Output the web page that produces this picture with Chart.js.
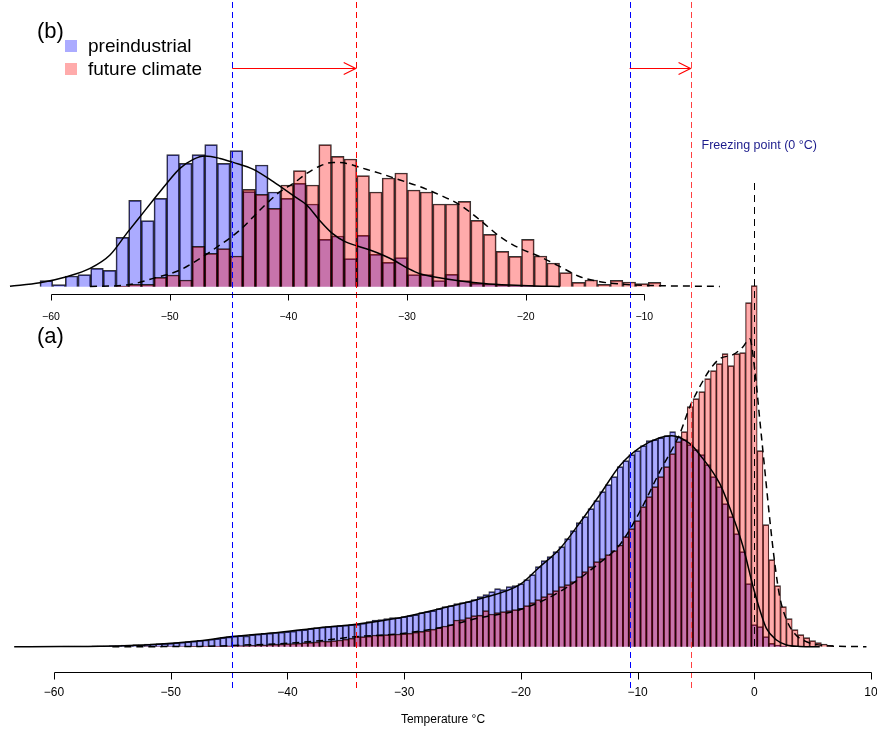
<!DOCTYPE html>
<html lang="en">
<head>
<meta charset="UTF-8">
<title>Temperature distributions</title>
<script src="https://cdn.jsdelivr.net/npm/chart.js"></script>
<style>
  html, body { margin: 0; padding: 0; background: #fff; }
  #wrap { position: relative; width: 877px; height: 731px; }
</style>
</head>
<body>
<div id="wrap"><canvas id="tempChart" width="877" height="731"></canvas></div>
<script>
// ---- panel (b): 49 bins, about 1.07 degC wide
const binStartB = -60.93;
const binWidthB = 1.068;
const preB = [6, 2, 10.7, 12, 18.3, 16.3, 49.3, 86.3, 66, 88.3, 132, 123.3, 132, 142, 123.3, 136, 95, 121.7, 94.7, 88.3,
  103.3, 82.7, 47.3, 50.7, 28, 51.3, 32.3, 24.3, 29, 12, 12, 6, 12.3, 6, 3.3, 2.7, 1.7, 1, 1.3, 0.7,
  0, 0, 0, 0, 0, 0, 0, 0, 0];
const futB = [0, 0, 0, 0, 0, 0, 0.5, 2.3, 2.3, 9.3, 11.7, 6.7, 40.3, 33.3, 38, 30.7, 97.3, 92.3, 78.3, 101.7,
  116, 101.7, 142, 130.3, 127.7, 111, 94.7, 108.7, 113.7, 96.7, 94.7, 82.7, 82.7, 85.3, 66.3, 52.3, 35.3, 30.3, 47.3, 30.7,
  23.7, 14, 4.3, 6.7, 2.3, 6.3, 4.7, 3, 4.3];

// density curves of panel (b)
const preCurveBx = [-63.46, -60.93, -58.68, -56.71, -55.03, -53.62, -52.50, -51.38, -50.25, -49.13, -48.01, -47.02, -45.76,
  -44.64, -42.95, -41.27, -39.58, -38.45, -37.39, -36.29, -35.22, -34.19, -33.12, -32.05, -30.99, -29.91, -28.84, -27.78,
  -25.64, -23.51, -21.38, -19.24, -17.11];
const preCurveBy = [0.5, 4, 10, 18.3, 31.7, 53.3, 70, 86.7, 103.3, 118.3, 127.3, 130.7, 128.3, 124.3, 117.3, 105, 91, 81.7,
  66.7, 53.3, 45, 40.7, 36.7, 31.7, 25.7, 18.3, 12.7, 10, 6, 3.3, 1.7, 0.7, 0.3];
const futCurveBx = [-56.71, -53.60, -51.38, -49.13, -47.44, -45.76, -44.07, -42.39, -40.70, -39.58, -38.45, -37.33, -36.21,
  -35.08, -33.96, -32.27, -30.59, -28.90, -27.22, -25.53, -23.85, -22.16, -20.48, -18.79, -17.10, -15.42, -13.73, -12.05,
  -9.80, -7.00, -3.63];
const futCurveBy = [0.3, 1.7, 8.3, 16.7, 28.3, 41.7, 56.7, 76.7, 95, 103.3, 113.3, 120.7, 124.3, 123.3, 119.3, 113.3, 106.7,
  100, 91.7, 81.7, 66.7, 50, 38.3, 30, 20, 10, 5, 2.7, 1.3, 0.7, 0.3];

// ---- panel (a): 140 bins of 0.5 degC, first bin centred on -63
const binStartA = -63.25;
const binWidthA = 0.5;
const preA = [0, 0, 0, 0.3, 0.3, 0.3, 0.4, 0.4, 0.5, 0.5,
  0.6, 0.6, 0.7, 0.8, 0.8, 0.9, 1,
  1.2, 1.5, 1.6, 2, 2.2, 2.5, 2.8, 3, 3.3, 3.6,
  4, 4.5, 5, 5.6, 6.3, 6.7, 7.5, 8, 9, 9.8,
  10.5, 11, 10.8, 12, 12.5, 13.3, 13.5, 14.2,
  14.5, 15, 15.5, 16.7, 17, 18, 19, 19.5, 20, 20.5,
  21, 21.5, 22, 22.3, 23.5, 25, 26.5, 27, 28, 29,
  29, 30, 31, 32, 34, 35, 36, 38, 40, 41, 43,
  44, 45, 47, 50, 52, 55, 58, 57, 60, 61, 63,
  67, 72, 80, 86, 90, 95, 100, 108, 116, 124,
  130, 138, 146, 155, 162, 170, 180, 186, 192, 196,
  201, 206, 207, 209, 211, 215, 210, 207, 202, 197,
  192, 182, 170, 160, 143, 130, 113, 95, 63, 22,
  20, 10, 3.3, 1.7, 0.5, 0, 0, 0, 0, 0, 0, 0, 0];
const futA = [0, 0, 0, 0, 0, 0, 0, 0, 0, 0, 0, 0, 0, 0, 0, 0, 0, 0, 0, 0, 0, 0,
  0.1, 0.1, 0.1, 0.2, 0.2,
  0.2, 0.2, 0.3, 0.3, 0.4, 0.5, 0.5, 0.6, 0.7, 0.8, 0.9, 1,
  1.2, 1.4, 1.6, 1.9, 2.2, 2.5,
  2.7, 3, 3.2, 3.6, 4, 4.3, 4.8, 5.7, 5.5, 6,
  6.7, 7.5, 8.5, 10, 10, 10.5, 11.7, 11.5, 12, 12.5,
  12.7, 13, 13.5, 14.5, 15.3, 16, 17.5, 19, 20.7, 22,
  26.7, 27, 29, 31, 31.5, 36, 32.7, 34, 35, 36,
  37, 38.3, 41, 44, 47, 50, 53, 56, 60, 62,
  65, 70, 75, 80, 85, 88, 92, 96, 101.7, 110,
  118, 126, 140, 150, 160, 170, 180, 193, 205, 215,
  240, 248, 255, 268, 276, 283, 293, 281, 293, 294,
  344, 361, 196, 122, 87, 61, 40, 28, 17, 12, 9, 6, 4, 2.7, 1.3];

const preCurveAx = [-63.41, -59.47, -56.06, -51.78, -47.49, -44.93, -40.64, -37.22, -34.13, -30.36, -26.94, -23.51, -20.09,
  -18.37, -16.66, -14.95, -13.23, -11.52, -9.81, -8.10, -7.07, -5.52, -4.67, -2.96, -1.82, -0.96, -0.10, 0.47, 1.04,
  1.90, 2.76, 3.90, 5.61];
const preCurveAy = [0, 0.2, 0.5, 2, 6, 10, 14.5, 19, 22.5, 29, 38, 48, 62, 80, 98, 124, 152, 181, 199, 209, 211, 203, 192,
  163, 130, 100, 60, 37, 18.3, 6.7, 1.7, 0.3, 0];
const futCurveAx = [-55, -47.49, -44.07, -40.64, -37.22, -34.13, -30.36, -26.94, -23.51, -20.09, -16.66, -13.23, -11.52, -9.81,
  -8.10, -6.38, -5.52, -4.67, -3.81, -2.96, -1.82, -0.96, -0.39, 0.04, 0.47, 0.90, 1.33, 1.76, 2.18, 2.76, 3.47, 4.47,
  6.18, 9.61];
const futCurveAy = [0, 0.3, 1.5, 3, 6, 10, 13, 19, 29, 37, 55, 84, 102, 135, 175, 213, 240, 260, 277, 288, 292, 300, 308,
  277, 227, 177, 127, 83, 50, 27, 13, 5, 1, 0];

// means (dashed verticals) and axis ticks
const meansB = [-44.73, -34.32];   // panel (b) scale
const meansA = [-10.68, -5.46];    // panel (a) scale
const ticksB = [-60, -50, -40, -30, -20, -10];
const ticksA = [-60, -50, -40, -30, -20, -10, 0, 10];

const BLUE = 'rgba(0, 0, 255, 0.33)';
const RED = 'rgba(255, 0, 0, 0.33)';
const FONT = '"Liberation Sans", Arial, sans-serif';

const bins = (vals, start, w) => vals.map((v, i) => ({ x: start + (i + 0.5) * w, y: v }));
const pts = (xs, ys) => xs.map((x, i) => ({ x: x, y: ys[i] }));

const barStyle = {
  type: 'bar', grouped: false, barPercentage: 1, categoryPercentage: 1,
  borderColor: 'rgba(0,0,0,0.8)', borderSkipped: 'start'
};
const lineStyle = { type: 'line', borderColor: '#000', borderWidth: 1.5, pointRadius: 0, cubicInterpolationMode: 'monotone', order: 0 };

const minus = n => (n < 0 ? '\u2212' + Math.abs(n) : String(n));

const overlay = {
  id: 'overlay',
  afterDatasetsDraw(chart) {
    const ctx = chart.ctx;
    const { x, xb, ya, yb } = chart.scales;
    ctx.save();

    // dashed mean lines
    ctx.lineWidth = 1;
    ctx.setLineDash([6, 4]);
    const vline = (px, col, y0, y1) => {
      ctx.strokeStyle = col;
      ctx.beginPath();
      ctx.moveTo(Math.round(px) + 0.5, y0);
      ctx.lineTo(Math.round(px) + 0.5, y1);
      ctx.stroke();
    };
    vline(xb.getPixelForValue(meansB[0]), '#0000ff', 2, 692);
    vline(xb.getPixelForValue(meansB[1]), '#ff0000', 2, 692);
    vline(x.getPixelForValue(meansA[0]), '#0000ff', 2, 692);
    vline(x.getPixelForValue(meansA[1]), '#ff4040', 2, 692);
    // freezing point
    ctx.setLineDash([7, 5]);
    vline(x.getPixelForValue(0), '#000', 183, ya.getPixelForValue(0));
    ctx.setLineDash([]);

    // arrows between the means
    const arrow = (x0, x1, y) => {
      ctx.strokeStyle = '#ff0000';
      ctx.lineWidth = 1.2;
      ctx.beginPath();
      ctx.moveTo(x0, y); ctx.lineTo(x1, y);
      ctx.moveTo(x1 - 12, y - 6); ctx.lineTo(x1, y); ctx.lineTo(x1 - 12, y + 6);
      ctx.stroke();
    };
    arrow(xb.getPixelForValue(meansB[0]), xb.getPixelForValue(meansB[1]), 68.5);
    arrow(x.getPixelForValue(meansA[0]), x.getPixelForValue(meansA[1]), 68.5);

    // axes
    const axis = (scale, ticks, yLine, tlen, yLab, size) => {
      ctx.strokeStyle = '#000';
      ctx.lineWidth = 1;
      const p0 = Math.round(scale.getPixelForValue(ticks[0])) + 0.5;
      const p1 = Math.round(scale.getPixelForValue(ticks[ticks.length - 1])) + 0.5;
      ctx.beginPath();
      ctx.moveTo(p0, yLine); ctx.lineTo(p1, yLine);
      ticks.forEach(t => {
        const p = Math.round(scale.getPixelForValue(t)) + 0.5;
        ctx.moveTo(p, yLine); ctx.lineTo(p, yLine + tlen);
      });
      ctx.stroke();
      ctx.fillStyle = '#000';
      ctx.font = size + 'px ' + FONT;
      ctx.textAlign = 'center';
      ctx.textBaseline = 'middle';
      ticks.forEach(t => ctx.fillText(minus(t), scale.getPixelForValue(t), yLab));
    };
    axis(xb, ticksB, 294.5, 6, 317, 10.5);
    axis(x, ticksA, 672.5, 7, 693, 12);

    ctx.fillStyle = '#000';
    ctx.font = '12px ' + FONT;
    ctx.fillText('Temperature \u00B0C', 443, 720);

    // panel letters
    ctx.font = '22px ' + FONT;
    ctx.textAlign = 'left';
    ctx.fillText('(b)', 37, 32);
    ctx.fillText('(a)', 37, 337);

    // legend
    ctx.fillStyle = BLUE;
    ctx.fillRect(65, 40, 12, 12);
    ctx.fillStyle = RED;
    ctx.fillRect(65, 63, 12, 12);
    ctx.fillStyle = '#000';
    ctx.font = '19px ' + FONT;
    ctx.fillText('preindustrial', 88, 46.5);
    ctx.fillText('future climate', 88, 69.5);

    ctx.fillStyle = '#1c1c8c';
    ctx.font = '12.5px ' + FONT;
    ctx.fillText('Freezing point (0 \u00B0C)', 701.5, 146);
    ctx.restore();
  }
};

new Chart(document.getElementById('tempChart'), {
  data: {
    datasets: [
      Object.assign({}, barStyle, { label: 'preindustrial (b)', data: bins(preB, binStartB, binWidthB), xAxisID: 'xb', yAxisID: 'yb', backgroundColor: BLUE, borderWidth: 1, order: 3 }),
      Object.assign({}, barStyle, { label: 'future climate (b)', data: bins(futB, binStartB, binWidthB), xAxisID: 'xb', yAxisID: 'yb', backgroundColor: RED, borderWidth: 1, order: 2 }),
      Object.assign({}, barStyle, { label: 'preindustrial (a)', data: bins(preA, binStartA, binWidthA), xAxisID: 'x', yAxisID: 'ya', backgroundColor: BLUE, borderWidth: { left: 0.6, right: 0.6, top: 1, bottom: 0 }, order: 3 }),
      Object.assign({}, barStyle, { label: 'future climate (a)', data: bins(futA, binStartA, binWidthA), xAxisID: 'x', yAxisID: 'ya', backgroundColor: RED, borderWidth: { left: 0.6, right: 0.6, top: 1, bottom: 0 }, order: 2 }),
      Object.assign({}, lineStyle, { label: 'density pre (b)', data: pts(preCurveBx, preCurveBy), xAxisID: 'xb', yAxisID: 'yb' }),
      Object.assign({}, lineStyle, { label: 'density fut (b)', data: pts(futCurveBx, futCurveBy), xAxisID: 'xb', yAxisID: 'yb', borderDash: [7, 5] }),
      Object.assign({}, lineStyle, { label: 'density pre (a)', data: pts(preCurveAx, preCurveAy), xAxisID: 'x', yAxisID: 'ya' }),
      Object.assign({}, lineStyle, { label: 'density fut (a)', data: pts(futCurveAx, futCurveAy), xAxisID: 'x', yAxisID: 'ya', borderDash: [7, 5] })
    ]
  },
  options: {
    responsive: false,
    animation: false,
    devicePixelRatio: 1,
    layout: { padding: 0 },
    plugins: { legend: { display: false }, tooltip: { enabled: false } },
    scales: {
      x: { type: 'linear', display: false, offset: false, min: -64.625, max: 10.514 },
      xb: { type: 'linear', display: false, offset: false, min: -64.298, max: 9.611 },
      ya: { type: 'linear', display: false, min: -84.3, max: 646.7 },
      yb: { type: 'linear', display: false, min: -444.3, max: 286.7 }
    }
  },
  plugins: [overlay]
});
</script>
</body>
</html>
